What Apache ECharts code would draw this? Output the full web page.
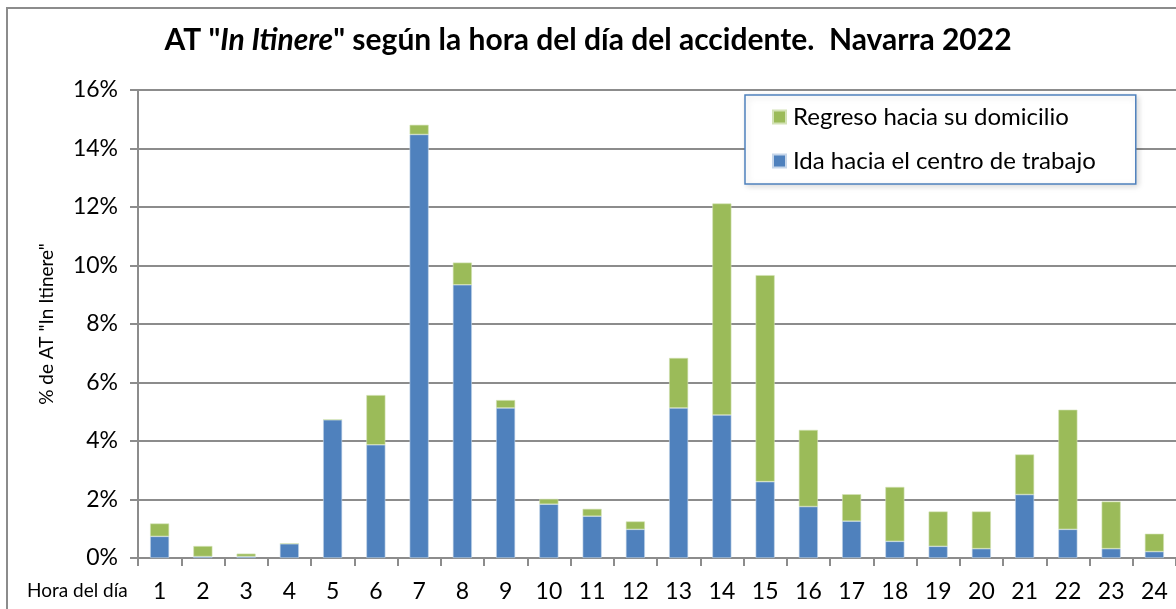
<!DOCTYPE html>
<html>
<head>
<meta charset="utf-8">
<script src="https://cdn.jsdelivr.net/npm/echarts@6/dist/echarts.min.js"></script>
<style>
  html, body { margin: 0; padding: 0; background: #fff; }
  #chart { width: 1176px; height: 609px; }
</style>
</head>
<body>
<div id="chart"></div>
<script>
// hours of the day
const horas = ['1','2','3','4','5','6','7','8','9','10','11','12','13','14','15','16','17','18','19','20','21','22','23','24'];
// % of accidents on the way to work
const ida = [0.74, 0.05, 0.05, 0.49, 4.73, 3.87, 14.48, 9.34, 5.13, 1.84, 1.43, 0.98, 5.13, 4.89, 2.61, 1.76, 1.26, 0.57, 0.40, 0.32, 2.17, 0.98, 0.32, 0.22];
// % of accidents on the way home
const regreso = [0.44, 0.36, 0.10, 0, 0, 1.70, 0.33, 0.76, 0.27, 0.18, 0.25, 0.27, 1.71, 7.23, 7.06, 2.62, 0.92, 1.86, 1.19, 1.27, 1.37, 4.09, 1.61, 0.61];
const yTicks = [0, 2, 4, 6, 8, 10, 12, 14, 16];

const FONT = 'Lato';
const gridColor = '#8c8c8c';

const chart = echarts.init(document.getElementById('chart'));
const option = {
  animation: false,
  color: ['#4F81BD', '#9BBB59'],
  textStyle: { fontFamily: FONT },
  title: {
    text: ['{b|AT "}{i|In Itinere}{b|" según la hora del día del accidente.  Navarra 2022}'].join(''),
    left: 'center',
    top: 20,
    textStyle: {
      rich: {
        b: { fontFamily: FONT, fontSize: 30, fontWeight: 'bold', color: '#000' },
        i: { fontFamily: FONT, fontSize: 30, fontWeight: 'bold', fontStyle: 'italic', color: '#000' }
      }
    }
  },
  legend: {
    data: ['Regreso hacia su domicilio', 'Ida hacia el centro de trabajo'],
    orient: 'vertical',
    left: 745,
    top: 95,
    padding: [10, 40, 11, 27],
    itemGap: 20,
    itemWidth: 13,
    itemHeight: 13,
    icon: 'rect',
    borderColor: '#4F81BD',
    borderWidth: 1.5,
    backgroundColor: '#fff',
    shadowColor: 'rgba(0,0,0,0.15)',
    shadowBlur: 6,
    shadowOffsetX: 2,
    shadowOffsetY: 2,
    textStyle: { fontFamily: FONT, fontSize: 24, color: '#000', padding: [0, 0, 0, 2] }
  },
  grid: {
    left: 138,
    right: 0,
    top: 90,
    bottom: 51
  },
  xAxis: {
    type: 'category',
    data: horas,
    axisLine: { lineStyle: { color: gridColor, width: 2 } },
    axisTick: { show: true, length: 8, lineStyle: { color: gridColor, width: 2 } },
    axisLabel: { color: '#000', fontSize: 23, fontFamily: FONT, margin: 22 }
  },
  yAxis: {
    type: 'value',
    min: yTicks[0],
    max: yTicks[yTicks.length - 1],
    interval: 2,
    name: '% de AT "In Itinere"',
    nameLocation: 'middle',
    nameGap: 82,
    nameTextStyle: { fontFamily: FONT, fontSize: 19, color: '#000' },
    axisLine: { show: true, lineStyle: { color: gridColor, width: 2 } },
    axisTick: { show: true, length: 8, lineStyle: { color: gridColor, width: 2 } },
    splitLine: { lineStyle: { color: gridColor, width: 2 } },
    axisLabel: { color: '#000', fontSize: 23, fontFamily: FONT, margin: 20, formatter: '{value}%' }
  },
  graphic: [
    {
      type: 'rect',
      shape: { x: 7, y: 8, width: 1200, height: 700 },
      style: { fill: 'none', stroke: '#8c8c8c', lineWidth: 2 },
      silent: true,
      z: -10
    },
    {
      type: 'text',
      left: 27,
      top: 581,
      style: { text: 'Hora del día', fontFamily: FONT, fontSize: 19, fill: '#000' }
    }
  ],
  series: [
    {
      name: 'Ida hacia el centro de trabajo',
      type: 'bar',
      stack: 'total',
      barWidth: '44%',
      data: ida,
      itemStyle: { color: '#4F81BD', borderColor: '#c6d6ea', borderWidth: 0.6 }
    },
    {
      name: 'Regreso hacia su domicilio',
      type: 'bar',
      stack: 'total',
      barWidth: '44%',
      data: regreso,
      itemStyle: { color: '#9BBB59', borderColor: '#d3e2b6', borderWidth: 0.6 }
    }
  ]
};
chart.setOption(option);
</script>
</body>
</html>
